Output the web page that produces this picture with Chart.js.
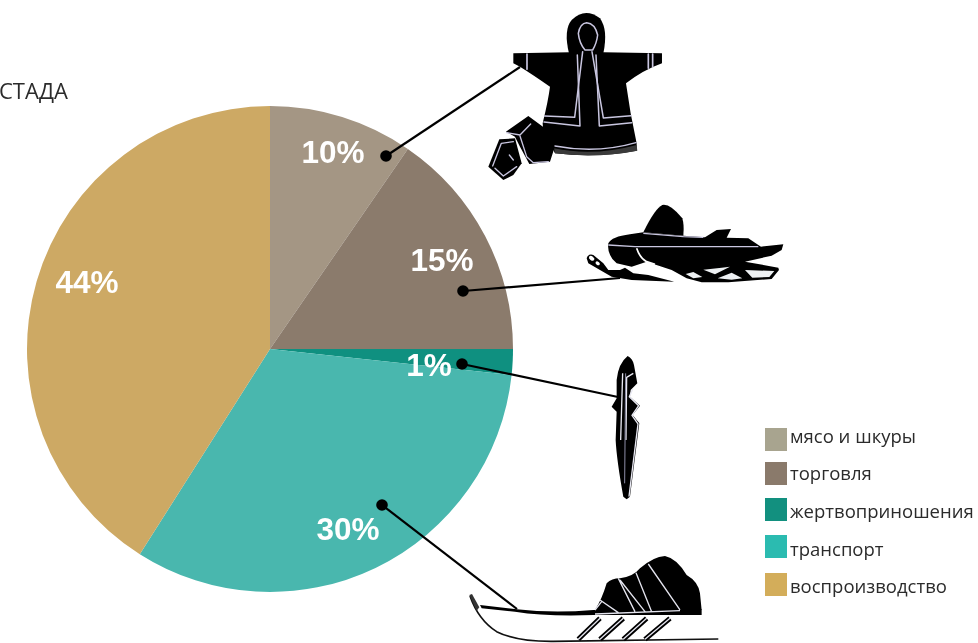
<!DOCTYPE html>
<html lang="ru">
<head>
<meta charset="utf-8">
<script src="https://cdn.jsdelivr.net/npm/chart.js@4"></script>
<style>
html,body{margin:0;padding:0;background:#fff;width:978px;height:643px;overflow:hidden}
#wrap{position:relative;width:978px;height:643px;font-family:"Open Sans",sans-serif;color:#2b2b2b}
canvas{position:absolute;left:0;top:0}
svg{position:absolute;left:0;top:0;pointer-events:none}
.t{position:absolute;font-size:18.5px;line-height:23px;white-space:nowrap}
.s{position:absolute;width:22px;height:23px;left:765px}
</style>
</head>
<body>
<div id="wrap">
<canvas id="c" width="978" height="643"></canvas>
<div class="t" style="left:-1px;top:78px;font-size:22px;line-height:24px">СТАДА</div>
<div id="legend"></div>
<svg width="978" height="643" viewBox="0 0 978 643">
  <g stroke="#000" stroke-width="2.2" fill="#000">
    <line x1="386" y1="156" x2="520" y2="67"/>
    <line x1="463" y1="291" x2="620" y2="278"/>
    <line x1="462" y1="364" x2="618" y2="397"/>
    <line x1="382" y1="505" x2="517" y2="609"/>
    <circle cx="386" cy="156" r="5.8" stroke="none"/>
    <circle cx="463" cy="291" r="5.8" stroke="none"/>
    <circle cx="462" cy="364" r="5.8" stroke="none"/>
    <circle cx="382" cy="505" r="5.8" stroke="none"/>
  </g>
  <!-- parka and boots -->
  <g transform="translate(470,0) scale(0.3333)" stroke-linejoin="round" stroke-linecap="round">
    <path d="M297 160Q280 90 305 60Q345 20 390 55Q415 90 400 160Z" fill="#000"/>
    <path d="M130 160L300 157L400 157L576 160L576 190Q520 210 468 250Q480 340 500 430L500 452Q380 475 255 460L245 440Q218 420 218 370Q235 300 240 260Q190 225 150 200L130 190Z" fill="#000"/>
    <path d="M252 445Q370 470 500 435L502 452Q380 476 255 460Z" fill="#3a3a3a"/>
    <g fill="none" stroke="#c9c6e0" stroke-width="4.5">
      <path d="M325 100Q330 70 350 68Q375 70 383 105Q380 130 368 150L345 150Q328 130 325 100Z"/>
      <path d="M338 155L314 352L224 348"/>
      <path d="M322 165L330 378L222 366"/>
      <path d="M366 155L400 354L483 347"/>
      <path d="M378 165L388 378L485 368"/>
      <path d="M171 162L171 208M535 162L535 205M548 162L548 200" stroke-width="5"/>
      <path d="M255 438Q380 462 498 428"/>
    </g>
    <path d="M108 395L175 348L225 385L253 445L240 485L178 492L150 440L135 410Z" fill="#000"/>
    <path d="M55 500L88 418L135 415L155 490L130 525L100 540Z" fill="#000"/>
    <g fill="none" stroke="#c9c6e0" stroke-width="4">
      <path d="M110 398L150 405L182 372M150 408L170 470L190 488L235 485"/>
      <path d="M68 498L94 430L130 425M75 505L100 528L140 500M118 465L130 480"/>
    </g>
  </g>
  <!-- snowmobile -->
  <g transform="translate(575,195) scale(0.3333)" stroke-linejoin="round">
    <path d="M205 112Q240 40 262 30Q285 25 322 70Q328 90 325 122Z" fill="#000"/>
    <path d="M100 145Q110 125 165 118L205 112L325 122L390 127L425 105L468 102L455 128L520 130L558 155L625 148L620 165L590 182L510 200L610 218L612 225L590 252L460 262L380 262L335 250L290 225L215 200L170 215L125 205Q95 180 100 145Z" fill="#000"/>
    <path d="M385 224L440 218L465 215L420 238ZM332 237L355 231L382 246L355 250ZM428 250L470 233L502 250L470 254ZM510 225L598 228L583 246L532 248Z" fill="#eef1f3"/>
    <path d="M35 190Q40 175 55 180L85 205L100 225L135 225L150 218L175 235L220 240L298 260L170 255L110 245L75 225L40 205Z" fill="#000"/>
    <ellipse cx="50" cy="190" rx="9" ry="6" fill="#fff" transform="rotate(35 50 190)"/>
    <ellipse cx="68" cy="205" rx="7" ry="5" fill="#fff" transform="rotate(35 68 205)"/>
    <g fill="none" stroke="#c9c6e0" stroke-width="4">
      <path d="M100 150L180 155L550 155"/>
      <path d="M205 115L325 125L385 127"/>
      <path d="M185 160Q195 190 215 200L240 208" stroke="#fff" stroke-width="5"/>
    </g>
  </g>
  <!-- blade -->
  <g transform="translate(450,340) scale(0.3333)" stroke-linejoin="round">
    <path d="M533 48Q548 55 552 75L562 130L542 150L540 170L570 197L548 225L568 250L540 470L530 478L520 470Q500 360 497 300L500 215L485 200L500 175L500 120Q505 70 533 48Z" fill="#000"/>
    <g fill="none" stroke="#e8e8f2" stroke-width="4">
      <path d="M518 100L512 300M550 100L530 112L528 300"/>
      <path d="M548 148L538 170L566 197L546 226L564 252L537 470"/>
      <path d="M527 100L524 430" stroke="#8f8fa8" stroke-width="3"/>
    </g>
  </g>
  <!-- sled -->
  <g transform="translate(460,550) scale(0.3333)" stroke-linejoin="round">
    <path d="M405 180Q425 150 440 100Q455 85 480 85Q520 80 540 55Q580 20 615 18Q650 25 680 75Q715 95 720 130L725 180Z" fill="#000"/>
    <path d="M60 165L170 178Q280 190 400 180L725 178L725 195L400 195Q260 200 165 185L65 175Z" fill="#000"/>
    <path d="M30 138Q55 210 110 245Q170 275 280 274L775 267" fill="none" stroke="#111" stroke-width="5"/>
    <path d="M28 135L36 132L58 172L50 182Z" fill="#333"/>
    <g fill="none" stroke="#000" stroke-width="15">
      <path d="M420 205L355 268M490 205L420 268M560 205L490 268M630 205L555 268"/>
    </g>
    <g fill="none" stroke="#e4e4ee" stroke-width="4">
      <path d="M420 205L355 268M490 205L420 268M560 205L490 268M630 205L555 268"/>
      <path d="M475 85L525 185M480 90L555 185M528 68L575 185M565 42L660 180M420 150L475 188M425 155L405 180M405 192L660 182"/>
    </g>
  </g>
</svg>
</div>
<script>
const categories = ['мясо и шкуры', 'торговля', 'жертвоприношения', 'транспорт', 'воспроизводство'];
const drawnShares = [9.6, 15.4, 1.7, 32.3, 41.0];
const percentLabels = ['10%', '15%', '1%', '30%', '44%'];
const sliceColors = ['#A49684', '#8B7B6C', '#0F9080', '#49B7AE', '#CDA964'];
const swatchColors = ['#A8A48F', '#8A7A6B', '#12907F', '#2BBBB0', '#D3AD5A'];
const labelPositions = [[333,154],[442,262],[429,367],[348,531],[87,284]];
const swatchTop = [428,462,498,535,573];
const textTop = [424,461,499,537,574];

const percentPlugin = {
  id: 'percentText',
  afterDatasetsDraw(chart) {
    const ctx = chart.ctx;
    ctx.save();
    ctx.fillStyle = '#fff';
    ctx.font = 'bold 31.5px "Liberation Sans", Arial, sans-serif';
    ctx.textAlign = 'center';
    ctx.textBaseline = 'middle';
    percentLabels.forEach((t, i) => ctx.fillText(t, labelPositions[i][0], labelPositions[i][1]));
    ctx.restore();
  }
};

new Chart(document.getElementById('c'), {
  type: 'pie',
  data: {
    labels: categories,
    datasets: [{ data: drawnShares, backgroundColor: sliceColors, borderWidth: 0, hoverOffset: 0 }]
  },
  options: {
    responsive: false,
    animation: false,
    layout: { padding: { left: 27, right: 465, top: 106, bottom: 51 } },
    plugins: { legend: { display: false }, tooltip: { enabled: false } }
  },
  plugins: [percentPlugin]
});

const lg = document.getElementById('legend');
categories.forEach((name, i) => {
  const s = document.createElement('div');
  s.className = 's';
  s.style.top = swatchTop[i] + 'px';
  s.style.background = swatchColors[i];
  lg.appendChild(s);
  const t = document.createElement('div');
  t.className = 't';
  t.style.left = '790px';
  t.style.top = textTop[i] + 'px';
  t.textContent = name;
  lg.appendChild(t);
});
</script>
</body>
</html>
